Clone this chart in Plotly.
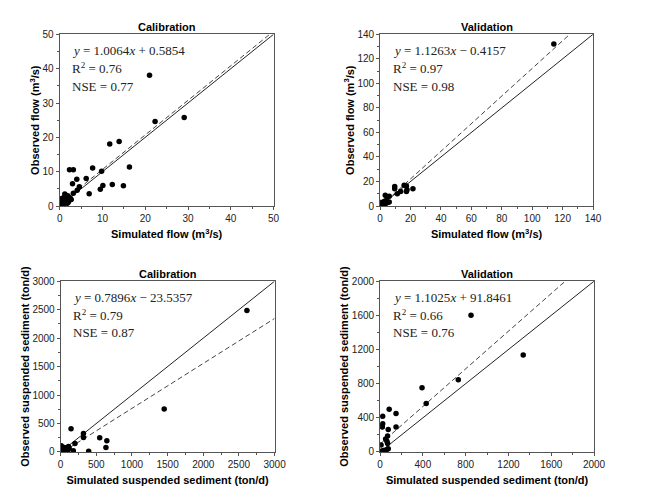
import plotly.graph_objects as go

# ---------------- data ----------------
flow_cal_sim = [21.0, 22.3, 29.1, 11.7, 13.9, 16.3, 7.7, 2.3, 3.2, 9.8, 4.0, 6.2, 3.0, 10.1, 12.3, 14.9,
                9.5, 6.9, 4.6, 4.1, 3.2, 1.2, 1.6, 2.4, 2.7, 0.8, 1.0, 0.5, 0.3, 0.6, 1.4, 1.9, 2.2, 0.9,
                0.4, 1.1, 1.8, 0.7, 1.3, 2.0, 0.2, 0.5, 1.5, 2.5]
flow_cal_obs = [38.1, 24.6, 25.8, 18.1, 18.8, 11.4, 11.1, 10.6, 10.6, 10.1, 7.8, 8.0, 6.5, 6.0, 6.3, 5.9,
                4.9, 3.6, 5.6, 4.6, 3.7, 3.5, 2.8, 2.4, 1.9, 1.4, 2.0, 1.0, 0.5, 2.3, 1.2, 3.0, 1.6, 0.6,
                1.5, 2.6, 0.8, 0.3, 1.9, 1.1, 0.2, 1.7, 2.2, 2.0]
flow_val_sim = [114.2, 9.6, 9.6, 15.8, 17.3, 17.7, 17.3, 21.6, 13.5, 11.3, 3.4, 6.0, 4.5, 6.0, 4.5,
                2.4, 1.1, 1.7, 2.8, 3.5, 0.8, 5.0]
flow_val_obs = [132.0, 15.9, 14.1, 17.0, 16.4, 13.3, 11.9, 14.1, 11.9, 10.1, 8.8, 8.0, 7.2, 3.4, 2.7,
                2.7, 1.9, 1.3, 4.0, 2.0, 3.0, 3.2]
sed_cal_sim = [2612, 1452, 146, 320, 320, 548, 648, 635, 201, 178, 393, 9, 41, 87, 110, 60, 25, 100,
               70, 15, 50, 120]
sed_cal_obs = [2487, 757, 410, 324, 256, 250, 199, 80, 148, 23, 11, 108, 40, 68, 97, 20, 10, 30,
               55, 5, 80, 60]
sed_val_sim = [850, 1338, 731, 392, 431, 85, 149, 24, 24, 21, 149, 76, 70, 52, 64, 70, 9, 76, 24, 55,
               9, 40]
sed_val_obs = [1601, 1135, 846, 751, 569, 501, 452, 417, 330, 292, 292, 262, 186, 152, 125, 99, 83,
               38, 15, 8, 8, 20]

fits = [(1.0064, 0.5854), (1.1263, -0.4157), (0.7896, -23.5357), (1.1025, 91.8461)]
eq_text = ["<i>y</i> = 1.0064<i>x</i> + 0.5854", "<i>y</i> = 1.1263<i>x</i> − 0.4157",
           "<i>y</i> = 0.7896<i>x</i> − 23.5357", "<i>y</i> = 1.1025<i>x</i> + 91.8461"]
r2_text = ["0.76", "0.97", "0.79", "0.66"]
nse_text = ["0.77", "0.98", "0.87", "0.76"]
titles = ["Calibration", "Validation", "Calibration", "Validation"]
xtitles = ["Simulated flow (m<sup>3</sup>/s)", "Simulated flow (m<sup>3</sup>/s)",
           "Simulated suspended sediment (ton/d)", "Simulated suspended sediment (ton/d)"]
ytitles = ["Observed flow (m<sup>3</sup>/s)", "Observed flow (m<sup>3</sup>/s)",
           "Observed suspended sediment (ton/d)", "Observed suspended sediment (ton/d)"]
axis_max = [50, 140, 3000, 2000]
major = [10, 20, 500, 400]

series = [(flow_cal_sim, flow_cal_obs), (flow_val_sim, flow_val_obs),
          (sed_cal_sim, sed_cal_obs), (sed_val_sim, sed_val_obs)]

W, H = 650, 498
# plot areas in pixels (left, right, top, bottom)
areas = [(58, 277, 29, 205), (386, 604, 29, 205), (59, 278, 282, 457), (386, 605, 282, 457)]

fig = go.Figure()
AX = "#555555"
for i in range(4):
    xs, ys = series[i]
    sfx = "" if i == 0 else str(i + 1)
    xa, ya = "x" + sfx, "y" + sfx
    m = axis_max[i]
    a, b = fits[i]
    # 1:1 line
    fig.add_trace(go.Scatter(x=[0, m], y=[0, m], mode="lines", xaxis=xa, yaxis=ya,
                             line=dict(color="#222222", width=1), showlegend=False, hoverinfo="skip"))
    # regression line, clipped at the top of the axis
    xend = min(m, (m - b) / a)
    xstart = max(0, -b / a)
    fig.add_trace(go.Scatter(x=[xstart, xend], y=[a * xstart + b, a * xend + b], mode="lines",
                             xaxis=xa, yaxis=ya,
                             line=dict(color="#444444", width=1, dash="5px,3px"),
                             showlegend=False, hoverinfo="skip"))
    fig.add_trace(go.Scatter(x=xs, y=ys, mode="markers", xaxis=xa, yaxis=ya,
                             marker=dict(color="black", size=5.5), showlegend=False))
    l, r, t, btm = areas[i]
    dx = [l / W, r / W]
    dy = [1 - btm / H, 1 - t / H]
    common = dict(range=[0, m], showgrid=False, zeroline=False, showline=True, linecolor=AX,
                  linewidth=1, mirror=True, ticks="outside", ticklen=3, tickcolor=AX,
                  dtick=major[i], tick0=0,
                  minor=dict(ticks="outside", ticklen=2, dtick=major[i] / 2, tickcolor=AX),
                  tickfont=dict(family="Liberation Sans, Arial", size=10, color="#222222"))
    fig.layout["xaxis" + sfx] = dict(common, domain=dx, anchor=ya,
                                     title=dict(text=xtitles[i], standoff=7,
                                                font=dict(family="Liberation Sans, Arial", size=11,
                                                          color="black", weight="bold")))
    fig.layout["yaxis" + sfx] = dict(common, domain=dy, anchor=xa,
                                     title=dict(text=ytitles[i], standoff=0,
                                                font=dict(family="Liberation Sans, Arial", size=11,
                                                          color="black", weight="bold")))
    cx = (l + r) / 2 / W
    fig.add_annotation(text="<b>" + titles[i] + "</b>", x=cx, y=1 - (t - 7) / H, xref="paper",
                       yref="paper", showarrow=False, xanchor="center", yanchor="middle",
                       font=dict(family="Liberation Sans, Arial", size=11, color="black"))
    tx = (l + 11) / W
    serif = dict(family="Liberation Serif, Times New Roman", size=13, color="#222222")
    fig.add_annotation(text=eq_text[i], x=tx, y=1 - (t + 17) / H, xref="paper", yref="paper",
                       showarrow=False, xanchor="left", yanchor="middle", font=serif)
    fig.add_annotation(text="R<sup>2</sup> = " + r2_text[i], x=tx, y=1 - (t + 35) / H,
                       xref="paper", yref="paper", showarrow=False, xanchor="left",
                       yanchor="middle", font=serif)
    fig.add_annotation(text="NSE = " + nse_text[i], x=tx, y=1 - (t + 53) / H, xref="paper",
                       yref="paper", showarrow=False, xanchor="left", yanchor="middle", font=serif)

fig.update_layout(width=W, height=H, margin=dict(l=0, r=0, t=0, b=0),
                  plot_bgcolor="white", paper_bgcolor="white", showlegend=False)
fig.write_html("out.html")
